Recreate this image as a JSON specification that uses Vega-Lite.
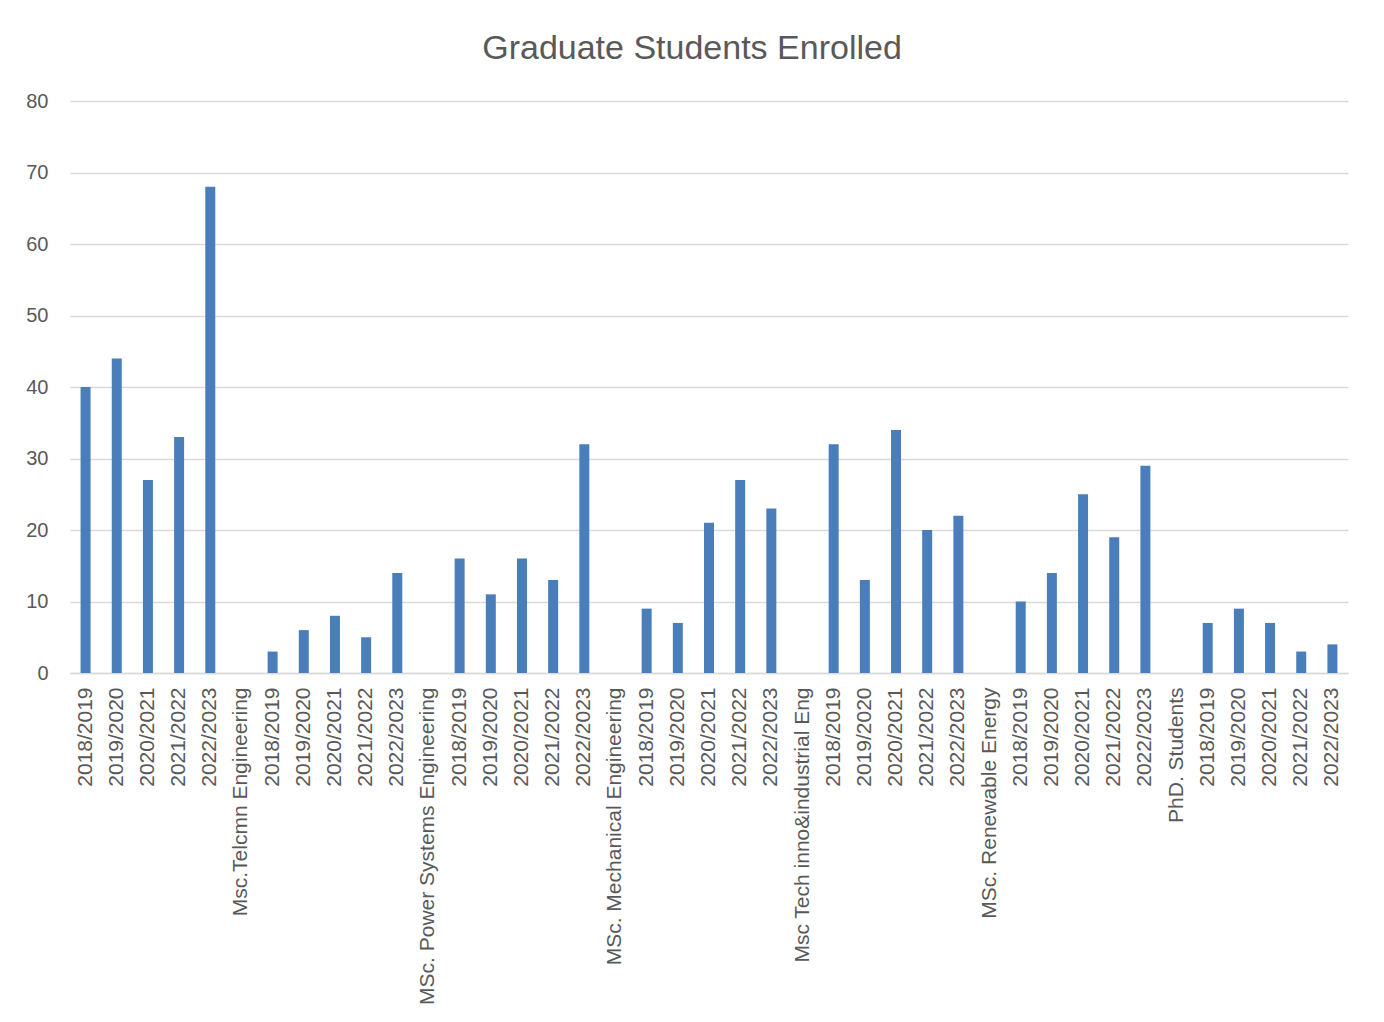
{
  "$schema": "https://vega.github.io/schema/vega-lite/v6.json",
  "autosize": {"type": "none"},
  "padding": {"left": 70, "top": 101, "right": 36, "bottom": 349},
  "width": 1278,
  "height": 572,
  "background": "white",
  "title": {
    "text": "Graduate Students Enrolled",
    "font": "Liberation Sans",
    "fontSize": 34,
    "fontWeight": "normal",
    "color": "#595959",
    "anchor": "middle",
    "dx": -17,
    "offset": 25
  },
  "data": {
    "values": [
      {"k": "01|2018/2019", "v": 40},
      {"k": "02|2019/2020", "v": 44},
      {"k": "03|2020/2021", "v": 27},
      {"k": "04|2021/2022", "v": 33},
      {"k": "05|2022/2023", "v": 68},
      {"k": "06|Msc.Telcmn Engineering", "v": 0},
      {"k": "07|2018/2019", "v": 3},
      {"k": "08|2019/2020", "v": 6},
      {"k": "09|2020/2021", "v": 8},
      {"k": "10|2021/2022", "v": 5},
      {"k": "11|2022/2023", "v": 14},
      {"k": "12|MSc. Power Systems Engineering", "v": 0},
      {"k": "13|2018/2019", "v": 16},
      {"k": "14|2019/2020", "v": 11},
      {"k": "15|2020/2021", "v": 16},
      {"k": "16|2021/2022", "v": 13},
      {"k": "17|2022/2023", "v": 32},
      {"k": "18|MSc. Mechanical Engineering", "v": 0},
      {"k": "19|2018/2019", "v": 9},
      {"k": "20|2019/2020", "v": 7},
      {"k": "21|2020/2021", "v": 21},
      {"k": "22|2021/2022", "v": 27},
      {"k": "23|2022/2023", "v": 23},
      {"k": "24|Msc Tech inno&industrial Eng", "v": 0},
      {"k": "25|2018/2019", "v": 32},
      {"k": "26|2019/2020", "v": 13},
      {"k": "27|2020/2021", "v": 34},
      {"k": "28|2021/2022", "v": 20},
      {"k": "29|2022/2023", "v": 22},
      {"k": "30|MSc. Renewable Energy", "v": 0},
      {"k": "31|2018/2019", "v": 10},
      {"k": "32|2019/2020", "v": 14},
      {"k": "33|2020/2021", "v": 25},
      {"k": "34|2021/2022", "v": 19},
      {"k": "35|2022/2023", "v": 29},
      {"k": "36|PhD. Students", "v": 0},
      {"k": "37|2018/2019", "v": 7},
      {"k": "38|2019/2020", "v": 9},
      {"k": "39|2020/2021", "v": 7},
      {"k": "40|2021/2022", "v": 3},
      {"k": "41|2022/2023", "v": 4}
    ]
  },
  "mark": {"type": "bar", "color": "#4a7ebb", "size": 10},
  "encoding": {
    "x": {
      "field": "k",
      "type": "ordinal",
      "sort": null,
      "scale": {"paddingInner": 0, "paddingOuter": 0},
      "axis": {
        "title": null,
        "labelExpr": "split(datum.value, '|')[1]",
        "labelAngle": 270,
        "labelFont": "Liberation Sans",
        "labelFontSize": 21,
        "labelColor": "#595959",
        "labelPadding": 14,
        "labelLimit": 400,
        "ticks": false,
        "domainColor": "#d9d9d9",
        "domainWidth": 1.5,
        "grid": false
      }
    },
    "y": {
      "field": "v",
      "type": "quantitative",
      "scale": {"domain": [0, 80]},
      "axis": {
        "title": null,
        "values": [0, 10, 20, 30, 40, 50, 60, 70, 80],
        "labelFont": "Liberation Sans",
        "labelFontSize": 20,
        "labelColor": "#595959",
        "labelPadding": 22,
        "ticks": false,
        "domain": false,
        "gridColor": "#d9d9d9",
        "gridWidth": 1.5
      }
    }
  },
  "config": {"view": {"stroke": null}}
}
